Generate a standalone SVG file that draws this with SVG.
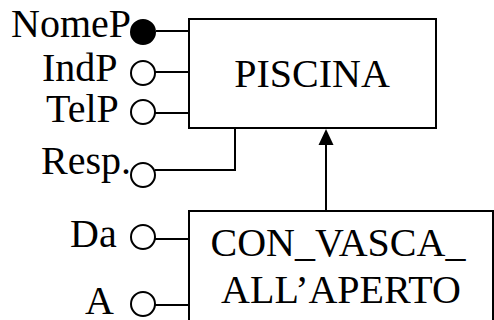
<svg xmlns="http://www.w3.org/2000/svg" width="494" height="320" viewBox="0 0 494 320">
<style>
.t{font-family:'Liberation Serif','Tinos','Times New Roman','DejaVu Serif',serif;font-size:40px;fill:#000}
.box{fill:#fff;stroke:#000;stroke-width:2}
.ln{fill:none;stroke:#000;stroke-width:2}
.att{fill:#fff;stroke:#000;stroke-width:2}
.key{fill:#000;stroke:#000;stroke-width:2}
</style>
<g id="connectors">
<line class="ln" x1="156" y1="31" x2="189" y2="31"/>
<line class="ln" x1="155" y1="72" x2="189" y2="72"/>
<line class="ln" x1="155" y1="113" x2="189" y2="113"/>
<polyline class="ln" points="155,170 235,170 235,128"/>
<line class="ln" x1="155" y1="239" x2="189" y2="239"/>
<line class="ln" x1="155" y1="305" x2="189" y2="305"/>
<line class="ln" x1="326" y1="211" x2="326" y2="145"/>
<path d="M326,129 L333.5,145 L318.5,145 z" fill="#000"/>
</g>
<g id="piscina">
<rect class="box" x="189" y="19" width="247" height="109"/>
<text class="t" x="312" y="87" text-anchor="middle" font-family="Liberation Serif, serif">PISCINA</text>
</g>
<g id="con_vasca">
<rect class="box" x="189" y="211" width="304" height="130"/>
<text class="t" x="338" y="256" text-anchor="middle">CON_VASCA_</text>
<text class="t" x="341" y="303" text-anchor="middle">ALL’APERTO</text>
</g>
<g id="attr-nomep">
<circle class="key" cx="143" cy="32" r="12"/>
<text class="t" x="11" y="37">NomeP</text>
</g>
<g id="attr-indp">
<circle class="att" cx="143" cy="73" r="12"/>
<text class="t" x="42" y="81">IndP</text>
</g>
<g id="attr-telp">
<circle class="att" cx="143" cy="112" r="12"/>
<text class="t" x="46" y="122">TelP</text>
</g>
<g id="attr-resp">
<circle class="att" cx="143" cy="175" r="12"/>
<text class="t" x="41" y="174">Resp.</text>
</g>
<g id="attr-da">
<circle class="att" cx="143" cy="237" r="12"/>
<text class="t" x="70" y="247">Da</text>
</g>
<g id="attr-a">
<circle class="att" cx="143" cy="304" r="12"/>
<text class="t" x="85" y="314">A</text>
</g>
</svg>
